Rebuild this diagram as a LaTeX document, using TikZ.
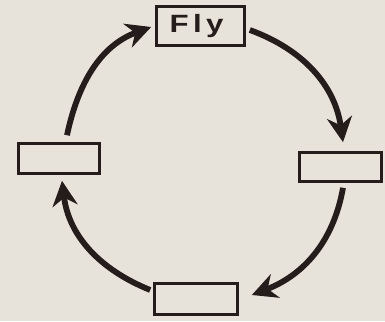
\documentclass[tikz,border=0pt]{standalone}
\usepackage{fontspec}
\usepackage{graphicx}
\setmainfont{Liberation Sans}
\usetikzlibrary{arrows.meta,calc}
\definecolor{paper}{HTML}{E7E3DA}
\definecolor{ink}{HTML}{241D1B}
\begin{document}
\begin{tikzpicture}[x=1pt,y=1pt,
  stagebox/.style={draw=ink,line width=2.6pt,fill=paper,minimum width=#1,inner sep=0pt},
  cycle/.style={draw=ink,line width=5.8pt,
    -{Stealth[length=25pt,width=25pt,inset=8pt]}}]
  % page
  \fill[paper] (0,0) rectangle (385,321);
  \useasboundingbox (0,0) rectangle (385,321);
  % stages of the cycle
  \node[stagebox=88pt,minimum height=39pt] (fly) at (200.5,295)
    {\color{ink}\bfseries\fontsize{25}{25}\selectfont
     \scalebox{1.25}[1]{\addfontfeature{LetterSpace=14}Fly}\hspace*{8pt}};
  \node[stagebox=82pt,minimum height=29pt] (right) at (340.5,154) {};
  \node[stagebox=81pt,minimum height=30pt] (left) at (59,162.5) {};
  \node[stagebox=83pt,minimum height=31pt] (bottom) at (196,22) {};
  % arrows round the cycle
  \draw[cycle] ($(fly.east)+(4,-4)$) to[out=-20,in=98] ($(right.north)+(2.5,9)$);
  \draw[cycle] ($(right.south)+(2.5,-5)$) to[out=-100,in=21] ($(bottom.east)+(13,4)$);
  \draw[cycle] ($(bottom.west)+(-3,9)$) to[out=158,in=-83] ($(left.south)+(3,-6)$);
  \draw[cycle] ($(left.north)+(8,7)$) to[out=78,in=200] ($(fly.west)+(-4,-1)$);
\end{tikzpicture}
\end{document}
